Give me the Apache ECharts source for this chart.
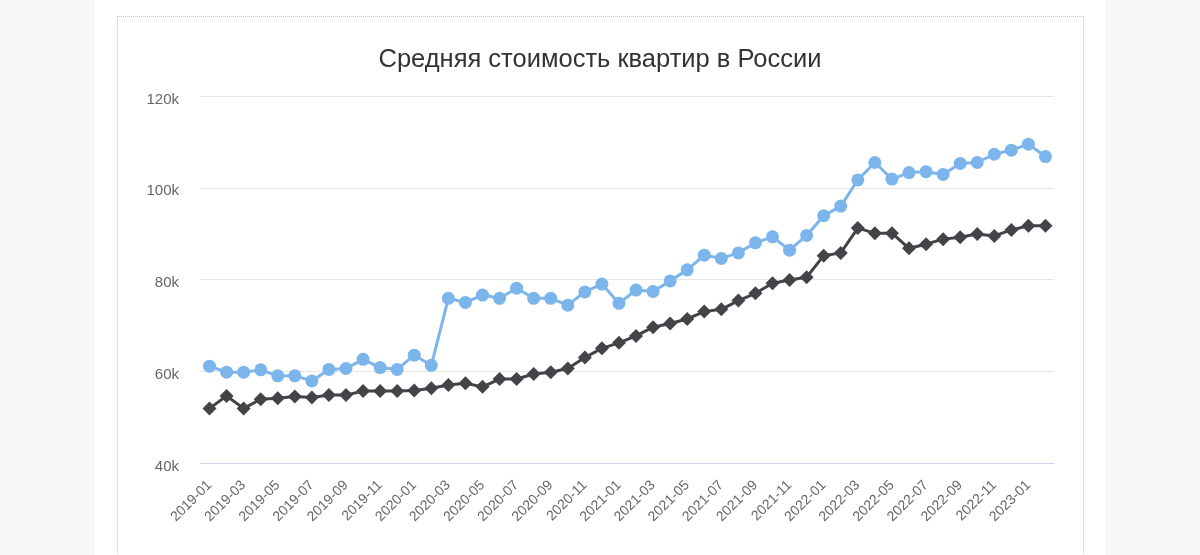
<!DOCTYPE html>
<html>
<head>
<meta charset="utf-8">
<script src="https://cdn.jsdelivr.net/npm/echarts@6/dist/echarts.min.js"></script>
<style>
  html, body { margin: 0; padding: 0; width: 1200px; height: 555px; overflow: hidden; background: #f7f7f7; }
  #page { position: absolute; left: 95px; top: 0; width: 1010px; height: 555px; background: #ffffff; }
  #frame { position: absolute; left: 117px; top: 16px; width: 965px; height: 600px; border: 1px dotted #c8c8c8; }
  #chart { position: absolute; left: 0; top: 0; width: 1200px; height: 555px; }
</style>
</head>
<body>
<div id="page"></div>
<div id="frame"></div>
<div id="chart"></div>
<script>
const months = [
  '2019-01','2019-02','2019-03','2019-04','2019-05','2019-06','2019-07','2019-08','2019-09','2019-10','2019-11','2019-12',
  '2020-01','2020-02','2020-03','2020-04','2020-05','2020-06','2020-07','2020-08','2020-09','2020-10','2020-11','2020-12',
  '2021-01','2021-02','2021-03','2021-04','2021-05','2021-06','2021-07','2021-08','2021-09','2021-10','2021-11','2021-12',
  '2022-01','2022-02','2022-03','2022-04','2022-05','2022-06','2022-07','2022-08','2022-09','2022-10','2022-11','2022-12',
  '2023-01','2023-02'
];
const primaryMarket = [
  61100, 59800, 59800, 60300, 59000, 59000, 57900, 60400, 60600, 62600, 60800, 60400,
  63500, 61300, 75900, 75000, 76600, 75900, 78100, 75900, 75900, 74400, 77300, 79000,
  74800, 77700, 77400, 79700, 82100, 85300, 84600, 85800, 88000, 89300, 86400, 89600,
  93900, 96000, 101700, 105500, 101900, 103300, 103500, 102900, 105300, 105500, 107300, 108200,
  109500, 106800
];
const secondaryMarket = [
  51900, 54600, 51900, 53900, 54100, 54500, 54300, 54800, 54800, 55700, 55700, 55700,
  55800, 56300, 57000, 57400, 56600, 58300, 58300, 59400, 59800, 60600, 63000, 65000,
  66200, 67700, 69600, 70400, 71400, 73000, 73500, 75400, 77000, 79200, 79900, 80500,
  85200, 85800, 91200, 90100, 90100, 86800, 87700, 88800, 89200, 89900, 89500, 90800,
  91700, 91700
];
const yTicks = { min: 40000, max: 120000, interval: 20000 };
const titleText = 'Средняя стоимость квартир в России';

const chart = echarts.init(document.getElementById('chart'), null, { renderer: 'canvas' });
chart.setOption({
  animation: false,
  backgroundColor: 'transparent',
  title: {
    text: titleText,
    left: 'center',
    top: 42,
    textStyle: { fontFamily: 'Liberation Sans, Arial, sans-serif', fontSize: 25.5, fontWeight: 'normal', color: '#333333' }
  },
  grid: { left: 201, right: 146, top: 96, bottom: 92, containLabel: false },
  xAxis: {
    type: 'category',
    data: months,
    boundaryGap: true,
    axisLine: { show: true, lineStyle: { color: '#ccd6eb', width: 1 } },
    axisTick: { show: false },
    axisLabel: {
      interval: 1,
      rotate: 45,
      margin: 20,
      color: '#666666',
      fontSize: 14,
      fontFamily: 'Liberation Sans, Arial, sans-serif'
    },
    splitLine: { show: false }
  },
  yAxis: {
    type: 'value',
    min: yTicks.min,
    max: yTicks.max,
    interval: yTicks.interval,
    axisLine: { show: false },
    axisTick: { show: false },
    axisLabel: {
      margin: 22,
      color: '#666666',
      fontSize: 15,
      verticalAlign: 'top',
      lineHeight: 7,
      fontFamily: 'Liberation Sans, Arial, sans-serif',
      formatter: v => (v / 1000) + 'k'
    },
    splitLine: { show: true, lineStyle: { color: '#e6e6e6', width: 1 } }
  },
  series: [
    {
      name: 'Первичный рынок',
      type: 'line',
      data: primaryMarket,
      symbol: 'circle',
      symbolSize: 13,
      showAllSymbol: true,
      lineStyle: { color: '#7cb5ec', width: 3 },
      itemStyle: { color: '#7cb5ec' },
      z: 2
    },
    {
      name: 'Вторичный рынок',
      type: 'line',
      data: secondaryMarket,
      symbol: 'diamond',
      symbolSize: 14,
      showAllSymbol: true,
      lineStyle: { color: '#434348', width: 3 },
      itemStyle: { color: '#434348' },
      z: 3
    }
  ]
});
</script>
</body>
</html>
